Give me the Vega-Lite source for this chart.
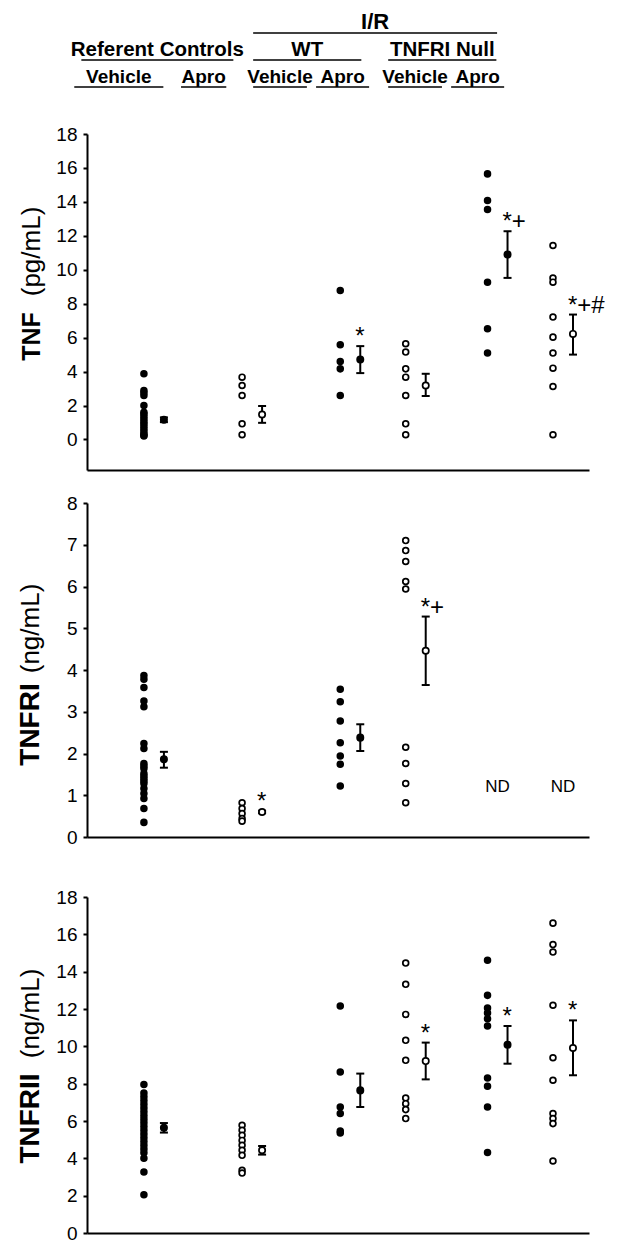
{
  "$schema": "https://vega.github.io/schema/vega-lite/v6.json",
  "background": "white",
  "padding": {"left": 16, "top": 6, "right": 5, "bottom": 5},
  "config": {
    "font": "Liberation Sans",
    "view": {"stroke": null},
    "axis": {"grid": false, "domainColor": "black", "domainWidth": 2, "tickColor": "black", "tickWidth": 2, "tickSize": 4, "labelColor": "black", "labelFont": "Liberation Sans", "labelFontSize": 19, "labelPadding": 6, "titleColor": "black", "titleFont": "Liberation Sans"}
  },
  "datasets": {
    "obs": [
      {"panel": "TNF", "group": "Referent Vehicle", "treatment": "Vehicle", "value": 3.87},
      {"panel": "TNF", "group": "Referent Vehicle", "treatment": "Vehicle", "value": 2.89},
      {"panel": "TNF", "group": "Referent Vehicle", "treatment": "Vehicle", "value": 2.75},
      {"panel": "TNF", "group": "Referent Vehicle", "treatment": "Vehicle", "value": 2.59},
      {"panel": "TNF", "group": "Referent Vehicle", "treatment": "Vehicle", "value": 2.0},
      {"panel": "TNF", "group": "Referent Vehicle", "treatment": "Vehicle", "value": 1.6},
      {"panel": "TNF", "group": "Referent Vehicle", "treatment": "Vehicle", "value": 1.5},
      {"panel": "TNF", "group": "Referent Vehicle", "treatment": "Vehicle", "value": 1.35},
      {"panel": "TNF", "group": "Referent Vehicle", "treatment": "Vehicle", "value": 1.2},
      {"panel": "TNF", "group": "Referent Vehicle", "treatment": "Vehicle", "value": 1.05},
      {"panel": "TNF", "group": "Referent Vehicle", "treatment": "Vehicle", "value": 0.92},
      {"panel": "TNF", "group": "Referent Vehicle", "treatment": "Vehicle", "value": 0.78},
      {"panel": "TNF", "group": "Referent Vehicle", "treatment": "Vehicle", "value": 0.63},
      {"panel": "TNF", "group": "Referent Vehicle", "treatment": "Vehicle", "value": 0.48},
      {"panel": "TNF", "group": "Referent Vehicle", "treatment": "Vehicle", "value": 0.34},
      {"panel": "TNF", "group": "Referent Vehicle", "treatment": "Vehicle", "value": 0.25},
      {"panel": "TNF", "group": "Referent Vehicle", "treatment": "Vehicle", "value": 0.2},
      {"panel": "TNF", "group": "Referent Apro", "treatment": "Apro", "value": 3.67},
      {"panel": "TNF", "group": "Referent Apro", "treatment": "Apro", "value": 3.18},
      {"panel": "TNF", "group": "Referent Apro", "treatment": "Apro", "value": 2.59},
      {"panel": "TNF", "group": "Referent Apro", "treatment": "Apro", "value": 0.92},
      {"panel": "TNF", "group": "Referent Apro", "treatment": "Apro", "value": 0.28},
      {"panel": "TNF", "group": "WT Vehicle", "treatment": "Vehicle", "value": 8.78},
      {"panel": "TNF", "group": "WT Vehicle", "treatment": "Vehicle", "value": 5.58},
      {"panel": "TNF", "group": "WT Vehicle", "treatment": "Vehicle", "value": 4.59},
      {"panel": "TNF", "group": "WT Vehicle", "treatment": "Vehicle", "value": 4.16},
      {"panel": "TNF", "group": "WT Vehicle", "treatment": "Vehicle", "value": 2.59},
      {"panel": "TNF", "group": "WT Apro", "treatment": "Apro", "value": 5.64},
      {"panel": "TNF", "group": "WT Apro", "treatment": "Apro", "value": 5.15},
      {"panel": "TNF", "group": "WT Apro", "treatment": "Apro", "value": 4.16},
      {"panel": "TNF", "group": "WT Apro", "treatment": "Apro", "value": 3.67},
      {"panel": "TNF", "group": "WT Apro", "treatment": "Apro", "value": 2.59},
      {"panel": "TNF", "group": "WT Apro", "treatment": "Apro", "value": 0.92},
      {"panel": "TNF", "group": "WT Apro", "treatment": "Apro", "value": 0.28},
      {"panel": "TNF", "group": "TNFRI Null Vehicle", "treatment": "Vehicle", "value": 15.65},
      {"panel": "TNF", "group": "TNFRI Null Vehicle", "treatment": "Vehicle", "value": 14.08},
      {"panel": "TNF", "group": "TNFRI Null Vehicle", "treatment": "Vehicle", "value": 13.55},
      {"panel": "TNF", "group": "TNFRI Null Vehicle", "treatment": "Vehicle", "value": 9.27},
      {"panel": "TNF", "group": "TNFRI Null Vehicle", "treatment": "Vehicle", "value": 6.52},
      {"panel": "TNF", "group": "TNFRI Null Vehicle", "treatment": "Vehicle", "value": 5.09},
      {"panel": "TNF", "group": "TNFRI Null Apro", "treatment": "Apro", "value": 11.43},
      {"panel": "TNF", "group": "TNFRI Null Apro", "treatment": "Apro", "value": 9.51},
      {"panel": "TNF", "group": "TNFRI Null Apro", "treatment": "Apro", "value": 9.27},
      {"panel": "TNF", "group": "TNFRI Null Apro", "treatment": "Apro", "value": 7.21},
      {"panel": "TNF", "group": "TNFRI Null Apro", "treatment": "Apro", "value": 6.03},
      {"panel": "TNF", "group": "TNFRI Null Apro", "treatment": "Apro", "value": 5.09},
      {"panel": "TNF", "group": "TNFRI Null Apro", "treatment": "Apro", "value": 4.2},
      {"panel": "TNF", "group": "TNFRI Null Apro", "treatment": "Apro", "value": 3.12},
      {"panel": "TNF", "group": "TNFRI Null Apro", "treatment": "Apro", "value": 0.28},
      {"panel": "TNFRI", "group": "Referent Vehicle", "treatment": "Vehicle", "value": 3.87},
      {"panel": "TNFRI", "group": "Referent Vehicle", "treatment": "Vehicle", "value": 3.78},
      {"panel": "TNFRI", "group": "Referent Vehicle", "treatment": "Vehicle", "value": 3.58},
      {"panel": "TNFRI", "group": "Referent Vehicle", "treatment": "Vehicle", "value": 3.26},
      {"panel": "TNFRI", "group": "Referent Vehicle", "treatment": "Vehicle", "value": 3.12},
      {"panel": "TNFRI", "group": "Referent Vehicle", "treatment": "Vehicle", "value": 2.24},
      {"panel": "TNFRI", "group": "Referent Vehicle", "treatment": "Vehicle", "value": 2.12},
      {"panel": "TNFRI", "group": "Referent Vehicle", "treatment": "Vehicle", "value": 1.76},
      {"panel": "TNFRI", "group": "Referent Vehicle", "treatment": "Vehicle", "value": 1.7},
      {"panel": "TNFRI", "group": "Referent Vehicle", "treatment": "Vehicle", "value": 1.64},
      {"panel": "TNFRI", "group": "Referent Vehicle", "treatment": "Vehicle", "value": 1.52},
      {"panel": "TNFRI", "group": "Referent Vehicle", "treatment": "Vehicle", "value": 1.46},
      {"panel": "TNFRI", "group": "Referent Vehicle", "treatment": "Vehicle", "value": 1.4},
      {"panel": "TNFRI", "group": "Referent Vehicle", "treatment": "Vehicle", "value": 1.34},
      {"panel": "TNFRI", "group": "Referent Vehicle", "treatment": "Vehicle", "value": 1.28},
      {"panel": "TNFRI", "group": "Referent Vehicle", "treatment": "Vehicle", "value": 1.16},
      {"panel": "TNFRI", "group": "Referent Vehicle", "treatment": "Vehicle", "value": 1.04},
      {"panel": "TNFRI", "group": "Referent Vehicle", "treatment": "Vehicle", "value": 0.92},
      {"panel": "TNFRI", "group": "Referent Vehicle", "treatment": "Vehicle", "value": 0.68},
      {"panel": "TNFRI", "group": "Referent Vehicle", "treatment": "Vehicle", "value": 0.35},
      {"panel": "TNFRI", "group": "Referent Apro", "treatment": "Apro", "value": 0.82},
      {"panel": "TNFRI", "group": "Referent Apro", "treatment": "Apro", "value": 0.68},
      {"panel": "TNFRI", "group": "Referent Apro", "treatment": "Apro", "value": 0.56},
      {"panel": "TNFRI", "group": "Referent Apro", "treatment": "Apro", "value": 0.44},
      {"panel": "TNFRI", "group": "Referent Apro", "treatment": "Apro", "value": 0.38},
      {"panel": "TNFRI", "group": "WT Vehicle", "treatment": "Vehicle", "value": 3.54},
      {"panel": "TNFRI", "group": "WT Vehicle", "treatment": "Vehicle", "value": 3.24},
      {"panel": "TNFRI", "group": "WT Vehicle", "treatment": "Vehicle", "value": 2.78},
      {"panel": "TNFRI", "group": "WT Vehicle", "treatment": "Vehicle", "value": 2.26},
      {"panel": "TNFRI", "group": "WT Vehicle", "treatment": "Vehicle", "value": 1.94},
      {"panel": "TNFRI", "group": "WT Vehicle", "treatment": "Vehicle", "value": 1.74},
      {"panel": "TNFRI", "group": "WT Vehicle", "treatment": "Vehicle", "value": 1.22},
      {"panel": "TNFRI", "group": "WT Apro", "treatment": "Apro", "value": 7.1},
      {"panel": "TNFRI", "group": "WT Apro", "treatment": "Apro", "value": 6.86},
      {"panel": "TNFRI", "group": "WT Apro", "treatment": "Apro", "value": 6.6},
      {"panel": "TNFRI", "group": "WT Apro", "treatment": "Apro", "value": 6.12},
      {"panel": "TNFRI", "group": "WT Apro", "treatment": "Apro", "value": 5.94},
      {"panel": "TNFRI", "group": "WT Apro", "treatment": "Apro", "value": 2.15},
      {"panel": "TNFRI", "group": "WT Apro", "treatment": "Apro", "value": 1.76},
      {"panel": "TNFRI", "group": "WT Apro", "treatment": "Apro", "value": 1.28},
      {"panel": "TNFRI", "group": "WT Apro", "treatment": "Apro", "value": 0.82},
      {"panel": "TNFRII", "group": "Referent Vehicle", "treatment": "Vehicle", "value": 7.96},
      {"panel": "TNFRII", "group": "Referent Vehicle", "treatment": "Vehicle", "value": 7.5},
      {"panel": "TNFRII", "group": "Referent Vehicle", "treatment": "Vehicle", "value": 7.3},
      {"panel": "TNFRII", "group": "Referent Vehicle", "treatment": "Vehicle", "value": 7.1},
      {"panel": "TNFRII", "group": "Referent Vehicle", "treatment": "Vehicle", "value": 6.9},
      {"panel": "TNFRII", "group": "Referent Vehicle", "treatment": "Vehicle", "value": 6.7},
      {"panel": "TNFRII", "group": "Referent Vehicle", "treatment": "Vehicle", "value": 6.5},
      {"panel": "TNFRII", "group": "Referent Vehicle", "treatment": "Vehicle", "value": 6.3},
      {"panel": "TNFRII", "group": "Referent Vehicle", "treatment": "Vehicle", "value": 6.1},
      {"panel": "TNFRII", "group": "Referent Vehicle", "treatment": "Vehicle", "value": 5.9},
      {"panel": "TNFRII", "group": "Referent Vehicle", "treatment": "Vehicle", "value": 5.7},
      {"panel": "TNFRII", "group": "Referent Vehicle", "treatment": "Vehicle", "value": 5.5},
      {"panel": "TNFRII", "group": "Referent Vehicle", "treatment": "Vehicle", "value": 5.3},
      {"panel": "TNFRII", "group": "Referent Vehicle", "treatment": "Vehicle", "value": 5.1},
      {"panel": "TNFRII", "group": "Referent Vehicle", "treatment": "Vehicle", "value": 4.9},
      {"panel": "TNFRII", "group": "Referent Vehicle", "treatment": "Vehicle", "value": 4.7},
      {"panel": "TNFRII", "group": "Referent Vehicle", "treatment": "Vehicle", "value": 4.5},
      {"panel": "TNFRII", "group": "Referent Vehicle", "treatment": "Vehicle", "value": 4.3},
      {"panel": "TNFRII", "group": "Referent Vehicle", "treatment": "Vehicle", "value": 4.0},
      {"panel": "TNFRII", "group": "Referent Vehicle", "treatment": "Vehicle", "value": 3.27},
      {"panel": "TNFRII", "group": "Referent Vehicle", "treatment": "Vehicle", "value": 2.05},
      {"panel": "TNFRII", "group": "Referent Apro", "treatment": "Apro", "value": 5.77},
      {"panel": "TNFRII", "group": "Referent Apro", "treatment": "Apro", "value": 5.5},
      {"panel": "TNFRII", "group": "Referent Apro", "treatment": "Apro", "value": 5.23},
      {"panel": "TNFRII", "group": "Referent Apro", "treatment": "Apro", "value": 4.96},
      {"panel": "TNFRII", "group": "Referent Apro", "treatment": "Apro", "value": 4.7},
      {"panel": "TNFRII", "group": "Referent Apro", "treatment": "Apro", "value": 4.43},
      {"panel": "TNFRII", "group": "Referent Apro", "treatment": "Apro", "value": 4.16},
      {"panel": "TNFRII", "group": "Referent Apro", "treatment": "Apro", "value": 3.36},
      {"panel": "TNFRII", "group": "Referent Apro", "treatment": "Apro", "value": 3.21},
      {"panel": "TNFRII", "group": "WT Vehicle", "treatment": "Vehicle", "value": 12.16},
      {"panel": "TNFRII", "group": "WT Vehicle", "treatment": "Vehicle", "value": 8.62},
      {"panel": "TNFRII", "group": "WT Vehicle", "treatment": "Vehicle", "value": 6.75},
      {"panel": "TNFRII", "group": "WT Vehicle", "treatment": "Vehicle", "value": 6.4},
      {"panel": "TNFRII", "group": "WT Vehicle", "treatment": "Vehicle", "value": 5.46},
      {"panel": "TNFRII", "group": "WT Vehicle", "treatment": "Vehicle", "value": 5.36},
      {"panel": "TNFRII", "group": "WT Apro", "treatment": "Apro", "value": 14.46},
      {"panel": "TNFRII", "group": "WT Apro", "treatment": "Apro", "value": 13.32},
      {"panel": "TNFRII", "group": "WT Apro", "treatment": "Apro", "value": 11.71},
      {"panel": "TNFRII", "group": "WT Apro", "treatment": "Apro", "value": 10.32},
      {"panel": "TNFRII", "group": "WT Apro", "treatment": "Apro", "value": 9.25},
      {"panel": "TNFRII", "group": "WT Apro", "treatment": "Apro", "value": 7.23},
      {"panel": "TNFRII", "group": "WT Apro", "treatment": "Apro", "value": 6.93},
      {"panel": "TNFRII", "group": "WT Apro", "treatment": "Apro", "value": 6.61},
      {"panel": "TNFRII", "group": "WT Apro", "treatment": "Apro", "value": 6.13},
      {"panel": "TNFRII", "group": "TNFRI Null Vehicle", "treatment": "Vehicle", "value": 14.61},
      {"panel": "TNFRII", "group": "TNFRI Null Vehicle", "treatment": "Vehicle", "value": 12.73},
      {"panel": "TNFRII", "group": "TNFRI Null Vehicle", "treatment": "Vehicle", "value": 12.05},
      {"panel": "TNFRII", "group": "TNFRI Null Vehicle", "treatment": "Vehicle", "value": 11.78},
      {"panel": "TNFRII", "group": "TNFRI Null Vehicle", "treatment": "Vehicle", "value": 11.48},
      {"panel": "TNFRII", "group": "TNFRI Null Vehicle", "treatment": "Vehicle", "value": 11.09},
      {"panel": "TNFRII", "group": "TNFRI Null Vehicle", "treatment": "Vehicle", "value": 8.3},
      {"panel": "TNFRII", "group": "TNFRI Null Vehicle", "treatment": "Vehicle", "value": 7.86},
      {"panel": "TNFRII", "group": "TNFRI Null Vehicle", "treatment": "Vehicle", "value": 6.75},
      {"panel": "TNFRII", "group": "TNFRI Null Vehicle", "treatment": "Vehicle", "value": 4.31},
      {"panel": "TNFRII", "group": "TNFRI Null Apro", "treatment": "Apro", "value": 16.6},
      {"panel": "TNFRII", "group": "TNFRI Null Apro", "treatment": "Apro", "value": 15.45},
      {"panel": "TNFRII", "group": "TNFRI Null Apro", "treatment": "Apro", "value": 15.05},
      {"panel": "TNFRII", "group": "TNFRI Null Apro", "treatment": "Apro", "value": 12.2},
      {"panel": "TNFRII", "group": "TNFRI Null Apro", "treatment": "Apro", "value": 9.39},
      {"panel": "TNFRII", "group": "TNFRI Null Apro", "treatment": "Apro", "value": 8.18},
      {"panel": "TNFRII", "group": "TNFRI Null Apro", "treatment": "Apro", "value": 6.4},
      {"panel": "TNFRII", "group": "TNFRI Null Apro", "treatment": "Apro", "value": 6.13},
      {"panel": "TNFRII", "group": "TNFRI Null Apro", "treatment": "Apro", "value": 5.86},
      {"panel": "TNFRII", "group": "TNFRI Null Apro", "treatment": "Apro", "value": 3.86}
    ],
    "summary": [
      {"panel": "TNF", "group": "Referent Vehicle", "treatment": "Vehicle", "mean": 1.16, "lo": 1.02, "hi": 1.3},
      {"panel": "TNF", "group": "Referent Apro", "treatment": "Apro", "mean": 1.47, "lo": 0.98, "hi": 1.97},
      {"panel": "TNF", "group": "WT Vehicle", "treatment": "Vehicle", "mean": 4.71, "lo": 3.91, "hi": 5.5, "sig": "*"},
      {"panel": "TNF", "group": "WT Apro", "treatment": "Apro", "mean": 3.18, "lo": 2.56, "hi": 3.87},
      {"panel": "TNF", "group": "TNFRI Null Vehicle", "treatment": "Vehicle", "mean": 10.9, "lo": 9.52, "hi": 12.27, "sig": "*+"},
      {"panel": "TNF", "group": "TNFRI Null Apro", "treatment": "Apro", "mean": 6.22, "lo": 5.0, "hi": 7.36, "sig": "*+#"},
      {"panel": "TNFRI", "group": "Referent Vehicle", "treatment": "Vehicle", "mean": 1.86, "lo": 1.66, "hi": 2.04},
      {"panel": "TNFRI", "group": "Referent Apro", "treatment": "Apro", "mean": 0.6, "lo": 0.57, "hi": 0.63, "sig": "*"},
      {"panel": "TNFRI", "group": "WT Vehicle", "treatment": "Vehicle", "mean": 2.38, "lo": 2.06, "hi": 2.7},
      {"panel": "TNFRI", "group": "WT Apro", "treatment": "Apro", "mean": 4.46, "lo": 3.64, "hi": 5.28, "sig": "*+"},
      {"panel": "TNFRII", "group": "Referent Vehicle", "treatment": "Vehicle", "mean": 5.64, "lo": 5.38, "hi": 5.89},
      {"panel": "TNFRII", "group": "Referent Apro", "treatment": "Apro", "mean": 4.43, "lo": 4.2, "hi": 4.66},
      {"panel": "TNFRII", "group": "WT Vehicle", "treatment": "Vehicle", "mean": 7.64, "lo": 6.75, "hi": 8.54},
      {"panel": "TNFRII", "group": "WT Apro", "treatment": "Apro", "mean": 9.21, "lo": 8.23, "hi": 10.2, "sig": "*"},
      {"panel": "TNFRII", "group": "TNFRI Null Vehicle", "treatment": "Vehicle", "mean": 10.09, "lo": 9.07, "hi": 11.09, "sig": "*"},
      {"panel": "TNFRII", "group": "TNFRI Null Apro", "treatment": "Apro", "mean": 9.91, "lo": 8.45, "hi": 11.39, "sig": "*"}
    ],
    "notes": [
      {"panel": "TNFRI", "group": "TNFRI Null Vehicle", "note": "ND"},
      {"panel": "TNFRI", "group": "TNFRI Null Apro", "note": "ND"}
    ],
    "header": [
      {"key": "I/R", "label": "I/R", "level": 1, "lo": 2.75, "hi": 6.2},
      {"key": "Referent Controls", "label": "Referent Controls", "level": 2, "lo": 0.32, "hi": 2.47},
      {"key": "WT", "label": "WT", "level": 2, "lo": 2.75, "hi": 4.28},
      {"key": "TNFRI Null", "label": "TNFRI Null", "level": 2, "lo": 4.66, "hi": 6.19},
      {"key": "Referent Vehicle", "label": "Vehicle", "level": 3, "lo": 0.22, "hi": 1.48},
      {"key": "Referent Apro", "label": "Apro", "level": 3, "lo": 1.73, "hi": 2.37},
      {"key": "WT Vehicle", "label": "Vehicle", "level": 3, "lo": 2.75, "hi": 3.51},
      {"key": "WT Apro", "label": "Apro", "level": 3, "lo": 3.64, "hi": 4.39},
      {"key": "TNFRI Null Vehicle", "label": "Vehicle", "level": 3, "lo": 4.66, "hi": 5.42},
      {"key": "TNFRI Null Apro", "label": "Apro", "level": 3, "lo": 5.55, "hi": 6.3}
    ]
  },
  "spacing": 11,
  "vconcat": [
    {
      "width": 502,
      "height": 108,
      "data": {"name": "header"},
      "layer": [
        {
          "mark": {"type": "rule", "color": "black", "strokeWidth": 1.3},
          "encoding": {
            "x": {"field": "lo", "type": "quantitative", "scale": {"domain": [0.4, 7.5], "nice": false, "zero": false}, "axis": null},
            "x2": {"field": "hi"},
            "y": {"field": "level", "type": "ordinal", "scale": {"type": "point", "domain": [1, 2, 3], "padding": 1}, "axis": null}
          }
        },
        {
          "transform": [
            {"fold": ["lo", "hi"], "as": ["end", "pos"]},
            {"aggregate": [{"op": "mean", "field": "pos", "as": "mid"}], "groupby": ["key", "label", "level"]}
          ],
          "mark": {"type": "text", "fontWeight": "bold", "baseline": "alphabetic", "align": "center", "dy": -4, "color": "black"},
          "encoding": {
            "x": {"field": "mid", "type": "quantitative", "scale": {"domain": [0.4, 7.5], "nice": false, "zero": false}, "axis": null},
            "y": {"field": "level", "type": "ordinal", "scale": {"type": "point", "domain": [1, 2, 3], "padding": 1}, "axis": null},
            "text": {"field": "label"},
            "size": {"field": "level", "type": "ordinal", "scale": {"domain": [1, 2, 3], "range": [22, 19, 17.5]}, "legend": null}
          }
        }
      ]
    },
    {
      "spacing": 41,
      "vconcat": [
        {
          "spacing": 24,
          "vconcat": [
            {
              "width": 502,
              "height": 336,
              "resolve": {"axis": {"y": "independent"}},
              "layer": [
                {
                  "data": {"name": "obs"},
                  "transform": [{"filter": "datum.panel === 'TNF'"}],
                  "mark": {"type": "point", "shape": "circle", "filled": true, "size": 34, "stroke": "black", "strokeWidth": 1.7, "opacity": 1},
                  "encoding": {
                    "x": {"field": "group", "type": "nominal", "title": null, "scale": {"type": "point", "domain": ["l1", "l2", "Referent Vehicle", "s1", "s2", "s3", "s4", "s5", "Referent Apro", "s6", "s7", "s8", "s9", "s10", "WT Vehicle", "s11", "s12", "s13", "WT Apro", "s14", "s15", "s16", "s17", "TNFRI Null Vehicle", "s18", "s19", "s20", "TNFRI Null Apro", "r1", "r2"], "padding": 0.84, "align": 0.88}, "axis": {"labels": false, "ticks": false, "domainWidth": 2, "domainColor": "black"}},
                    "y": {"field": "value", "type": "quantitative", "scale": {"domain": [-1.8, 18], "nice": false, "zero": false}, "axis": {"values": [0, 2, 4, 6, 8, 10, 12, 14, 16, 18], "title": "TNF", "titleFontWeight": "bold", "titleFontSize": 25, "titleAngle": 270, "titleAlign": "center", "titleBaseline": "alphabetic", "titleX": -48, "titleY": 202}},
                    "fill": {"field": "treatment", "type": "nominal", "scale": {"domain": ["Vehicle", "Apro"], "range": ["black", "white"]}, "legend": null}
                  }
                },
                {
                  "data": {"name": "summary"},
                  "transform": [{"filter": "datum.panel === 'TNF'"}],
                  "mark": {"type": "rule", "xOffset": 20, "strokeWidth": 2, "color": "black"},
                  "encoding": {
                    "x": {"field": "group", "type": "nominal", "title": null, "scale": {"type": "point", "domain": ["l1", "l2", "Referent Vehicle", "s1", "s2", "s3", "s4", "s5", "Referent Apro", "s6", "s7", "s8", "s9", "s10", "WT Vehicle", "s11", "s12", "s13", "WT Apro", "s14", "s15", "s16", "s17", "TNFRI Null Vehicle", "s18", "s19", "s20", "TNFRI Null Apro", "r1", "r2"], "padding": 0.84, "align": 0.88}},
                    "y": {"field": "lo", "type": "quantitative", "scale": {"domain": [-1.8, 18], "nice": false, "zero": false}, "axis": null},
                    "y2": {"field": "hi"}
                  }
                },
                {
                  "data": {"name": "summary"},
                  "transform": [{"filter": "datum.panel === 'TNF'"}],
                  "mark": {"type": "tick", "xOffset": 20, "thickness": 2, "size": 8, "color": "black", "opacity": 1, "orient": "horizontal"},
                  "encoding": {
                    "x": {"field": "group", "type": "nominal", "title": null, "scale": {"type": "point", "domain": ["l1", "l2", "Referent Vehicle", "s1", "s2", "s3", "s4", "s5", "Referent Apro", "s6", "s7", "s8", "s9", "s10", "WT Vehicle", "s11", "s12", "s13", "WT Apro", "s14", "s15", "s16", "s17", "TNFRI Null Vehicle", "s18", "s19", "s20", "TNFRI Null Apro", "r1", "r2"], "padding": 0.84, "align": 0.88}},
                    "y": {"field": "lo", "type": "quantitative", "scale": {"domain": [-1.8, 18], "nice": false, "zero": false}, "axis": null}
                  }
                },
                {
                  "data": {"name": "summary"},
                  "transform": [{"filter": "datum.panel === 'TNF'"}],
                  "mark": {"type": "tick", "xOffset": 20, "thickness": 2, "size": 8, "color": "black", "opacity": 1, "orient": "horizontal"},
                  "encoding": {
                    "x": {"field": "group", "type": "nominal", "title": null, "scale": {"type": "point", "domain": ["l1", "l2", "Referent Vehicle", "s1", "s2", "s3", "s4", "s5", "Referent Apro", "s6", "s7", "s8", "s9", "s10", "WT Vehicle", "s11", "s12", "s13", "WT Apro", "s14", "s15", "s16", "s17", "TNFRI Null Vehicle", "s18", "s19", "s20", "TNFRI Null Apro", "r1", "r2"], "padding": 0.84, "align": 0.88}},
                    "y": {"field": "hi", "type": "quantitative", "scale": {"domain": [-1.8, 18], "nice": false, "zero": false}, "axis": null}
                  }
                },
                {
                  "data": {"name": "summary"},
                  "transform": [{"filter": "datum.panel === 'TNF'"}],
                  "mark": {"type": "point", "shape": "circle", "filled": true, "size": 40, "stroke": "black", "strokeWidth": 1.7, "opacity": 1, "xOffset": 20},
                  "encoding": {
                    "x": {"field": "group", "type": "nominal", "title": null, "scale": {"type": "point", "domain": ["l1", "l2", "Referent Vehicle", "s1", "s2", "s3", "s4", "s5", "Referent Apro", "s6", "s7", "s8", "s9", "s10", "WT Vehicle", "s11", "s12", "s13", "WT Apro", "s14", "s15", "s16", "s17", "TNFRI Null Vehicle", "s18", "s19", "s20", "TNFRI Null Apro", "r1", "r2"], "padding": 0.84, "align": 0.88}},
                    "y": {"field": "mean", "type": "quantitative", "scale": {"domain": [-1.8, 18], "nice": false, "zero": false}, "axis": {"orient": "left", "labels": false, "ticks": false, "domain": false, "title": "(pg/mL)", "titleFontWeight": "normal", "titleFontSize": 26, "titleAngle": 270, "titleAlign": "center", "titleBaseline": "alphabetic", "titleX": -48, "titleY": 117}},
                    "fill": {"field": "treatment", "type": "nominal", "scale": {"domain": ["Vehicle", "Apro"], "range": ["black", "white"]}, "legend": null}
                  }
                },
                {
                  "data": {"name": "summary"},
                  "transform": [{"filter": "datum.panel === 'TNF' && datum.sig"}],
                  "mark": {"type": "text", "xOffset": 20, "dx": -5, "dy": -2, "align": "left", "baseline": "alphabetic", "fontSize": 24, "color": "black"},
                  "encoding": {
                    "x": {"field": "group", "type": "nominal", "title": null, "scale": {"type": "point", "domain": ["l1", "l2", "Referent Vehicle", "s1", "s2", "s3", "s4", "s5", "Referent Apro", "s6", "s7", "s8", "s9", "s10", "WT Vehicle", "s11", "s12", "s13", "WT Apro", "s14", "s15", "s16", "s17", "TNFRI Null Vehicle", "s18", "s19", "s20", "TNFRI Null Apro", "r1", "r2"], "padding": 0.84, "align": 0.88}},
                    "y": {"field": "hi", "type": "quantitative", "scale": {"domain": [-1.8, 18], "nice": false, "zero": false}, "axis": null},
                    "text": {"field": "sig"}
                  }
                }
              ]
            },
            {
              "width": 502,
              "height": 334,
              "resolve": {"axis": {"y": "independent"}},
              "layer": [
                {
                  "data": {"name": "obs"},
                  "transform": [{"filter": "datum.panel === 'TNFRI'"}],
                  "mark": {"type": "point", "shape": "circle", "filled": true, "size": 34, "stroke": "black", "strokeWidth": 1.7, "opacity": 1},
                  "encoding": {
                    "x": {"field": "group", "type": "nominal", "title": null, "scale": {"type": "point", "domain": ["l1", "l2", "Referent Vehicle", "s1", "s2", "s3", "s4", "s5", "Referent Apro", "s6", "s7", "s8", "s9", "s10", "WT Vehicle", "s11", "s12", "s13", "WT Apro", "s14", "s15", "s16", "s17", "TNFRI Null Vehicle", "s18", "s19", "s20", "TNFRI Null Apro", "r1", "r2"], "padding": 0.84, "align": 0.88}, "axis": {"labels": false, "ticks": false, "domainWidth": 2, "domainColor": "black"}},
                    "y": {"field": "value", "type": "quantitative", "scale": {"domain": [0, 8], "nice": false, "zero": false}, "axis": {"values": [0, 1, 2, 3, 4, 5, 6, 7, 8], "title": "TNFRI", "titleFontWeight": "bold", "titleFontSize": 28, "titleAngle": 270, "titleAlign": "center", "titleBaseline": "alphabetic", "titleX": -49, "titleY": 221}},
                    "fill": {"field": "treatment", "type": "nominal", "scale": {"domain": ["Vehicle", "Apro"], "range": ["black", "white"]}, "legend": null}
                  }
                },
                {
                  "data": {"name": "summary"},
                  "transform": [{"filter": "datum.panel === 'TNFRI'"}],
                  "mark": {"type": "rule", "xOffset": 20, "strokeWidth": 2, "color": "black"},
                  "encoding": {
                    "x": {"field": "group", "type": "nominal", "title": null, "scale": {"type": "point", "domain": ["l1", "l2", "Referent Vehicle", "s1", "s2", "s3", "s4", "s5", "Referent Apro", "s6", "s7", "s8", "s9", "s10", "WT Vehicle", "s11", "s12", "s13", "WT Apro", "s14", "s15", "s16", "s17", "TNFRI Null Vehicle", "s18", "s19", "s20", "TNFRI Null Apro", "r1", "r2"], "padding": 0.84, "align": 0.88}},
                    "y": {"field": "lo", "type": "quantitative", "scale": {"domain": [0, 8], "nice": false, "zero": false}, "axis": null},
                    "y2": {"field": "hi"}
                  }
                },
                {
                  "data": {"name": "summary"},
                  "transform": [{"filter": "datum.panel === 'TNFRI'"}],
                  "mark": {"type": "tick", "xOffset": 20, "thickness": 2, "size": 8, "color": "black", "opacity": 1, "orient": "horizontal"},
                  "encoding": {
                    "x": {"field": "group", "type": "nominal", "title": null, "scale": {"type": "point", "domain": ["l1", "l2", "Referent Vehicle", "s1", "s2", "s3", "s4", "s5", "Referent Apro", "s6", "s7", "s8", "s9", "s10", "WT Vehicle", "s11", "s12", "s13", "WT Apro", "s14", "s15", "s16", "s17", "TNFRI Null Vehicle", "s18", "s19", "s20", "TNFRI Null Apro", "r1", "r2"], "padding": 0.84, "align": 0.88}},
                    "y": {"field": "lo", "type": "quantitative", "scale": {"domain": [0, 8], "nice": false, "zero": false}, "axis": null}
                  }
                },
                {
                  "data": {"name": "summary"},
                  "transform": [{"filter": "datum.panel === 'TNFRI'"}],
                  "mark": {"type": "tick", "xOffset": 20, "thickness": 2, "size": 8, "color": "black", "opacity": 1, "orient": "horizontal"},
                  "encoding": {
                    "x": {"field": "group", "type": "nominal", "title": null, "scale": {"type": "point", "domain": ["l1", "l2", "Referent Vehicle", "s1", "s2", "s3", "s4", "s5", "Referent Apro", "s6", "s7", "s8", "s9", "s10", "WT Vehicle", "s11", "s12", "s13", "WT Apro", "s14", "s15", "s16", "s17", "TNFRI Null Vehicle", "s18", "s19", "s20", "TNFRI Null Apro", "r1", "r2"], "padding": 0.84, "align": 0.88}},
                    "y": {"field": "hi", "type": "quantitative", "scale": {"domain": [0, 8], "nice": false, "zero": false}, "axis": null}
                  }
                },
                {
                  "data": {"name": "summary"},
                  "transform": [{"filter": "datum.panel === 'TNFRI'"}],
                  "mark": {"type": "point", "shape": "circle", "filled": true, "size": 40, "stroke": "black", "strokeWidth": 1.7, "opacity": 1, "xOffset": 20},
                  "encoding": {
                    "x": {"field": "group", "type": "nominal", "title": null, "scale": {"type": "point", "domain": ["l1", "l2", "Referent Vehicle", "s1", "s2", "s3", "s4", "s5", "Referent Apro", "s6", "s7", "s8", "s9", "s10", "WT Vehicle", "s11", "s12", "s13", "WT Apro", "s14", "s15", "s16", "s17", "TNFRI Null Vehicle", "s18", "s19", "s20", "TNFRI Null Apro", "r1", "r2"], "padding": 0.84, "align": 0.88}},
                    "y": {"field": "mean", "type": "quantitative", "scale": {"domain": [0, 8], "nice": false, "zero": false}, "axis": {"orient": "left", "labels": false, "ticks": false, "domain": false, "title": "(ng/mL)", "titleFontWeight": "normal", "titleFontSize": 26, "titleAngle": 270, "titleAlign": "center", "titleBaseline": "alphabetic", "titleX": -49, "titleY": 125}},
                    "fill": {"field": "treatment", "type": "nominal", "scale": {"domain": ["Vehicle", "Apro"], "range": ["black", "white"]}, "legend": null}
                  }
                },
                {
                  "data": {"name": "summary"},
                  "transform": [{"filter": "datum.panel === 'TNFRI' && datum.sig"}],
                  "mark": {"type": "text", "xOffset": 20, "dx": -5, "dy": -2, "align": "left", "baseline": "alphabetic", "fontSize": 24, "color": "black"},
                  "encoding": {
                    "x": {"field": "group", "type": "nominal", "title": null, "scale": {"type": "point", "domain": ["l1", "l2", "Referent Vehicle", "s1", "s2", "s3", "s4", "s5", "Referent Apro", "s6", "s7", "s8", "s9", "s10", "WT Vehicle", "s11", "s12", "s13", "WT Apro", "s14", "s15", "s16", "s17", "TNFRI Null Vehicle", "s18", "s19", "s20", "TNFRI Null Apro", "r1", "r2"], "padding": 0.84, "align": 0.88}},
                    "y": {"field": "hi", "type": "quantitative", "scale": {"domain": [0, 8], "nice": false, "zero": false}, "axis": null},
                    "text": {"field": "sig"}
                  }
                },
                {
                  "data": {"name": "notes"},
                  "mark": {"type": "text", "xOffset": 10, "align": "center", "baseline": "middle", "fontSize": 17, "color": "black"},
                  "encoding": {
                    "x": {"field": "group", "type": "nominal", "title": null, "scale": {"type": "point", "domain": ["l1", "l2", "Referent Vehicle", "s1", "s2", "s3", "s4", "s5", "Referent Apro", "s6", "s7", "s8", "s9", "s10", "WT Vehicle", "s11", "s12", "s13", "WT Apro", "s14", "s15", "s16", "s17", "TNFRI Null Vehicle", "s18", "s19", "s20", "TNFRI Null Apro", "r1", "r2"], "padding": 0.84, "align": 0.88}},
                    "y": {"datum": 1.2, "type": "quantitative", "scale": {"domain": [0, 8], "nice": false, "zero": false}, "axis": null},
                    "text": {"field": "note"}
                  }
                }
              ]
            }
          ]
        },
        {
          "width": 502,
          "height": 336,
          "resolve": {"axis": {"y": "independent"}},
          "layer": [
            {
              "data": {"name": "obs"},
              "transform": [{"filter": "datum.panel === 'TNFRII'"}],
              "mark": {"type": "point", "shape": "circle", "filled": true, "size": 34, "stroke": "black", "strokeWidth": 1.7, "opacity": 1},
              "encoding": {
                "x": {"field": "group", "type": "nominal", "title": null, "scale": {"type": "point", "domain": ["l1", "l2", "Referent Vehicle", "s1", "s2", "s3", "s4", "s5", "Referent Apro", "s6", "s7", "s8", "s9", "s10", "WT Vehicle", "s11", "s12", "s13", "WT Apro", "s14", "s15", "s16", "s17", "TNFRI Null Vehicle", "s18", "s19", "s20", "TNFRI Null Apro", "r1", "r2"], "padding": 0.84, "align": 0.88}, "axis": {"labels": false, "ticks": false, "domainWidth": 2, "domainColor": "black"}},
                "y": {"field": "value", "type": "quantitative", "scale": {"domain": [0, 18], "nice": false, "zero": false}, "axis": {"values": [0, 2, 4, 6, 8, 10, 12, 14, 16, 18], "title": "TNFRII", "titleFontWeight": "bold", "titleFontSize": 28, "titleAngle": 270, "titleAlign": "center", "titleBaseline": "alphabetic", "titleX": -49, "titleY": 221}},
                "fill": {"field": "treatment", "type": "nominal", "scale": {"domain": ["Vehicle", "Apro"], "range": ["black", "white"]}, "legend": null}
              }
            },
            {
              "data": {"name": "summary"},
              "transform": [{"filter": "datum.panel === 'TNFRII'"}],
              "mark": {"type": "rule", "xOffset": 20, "strokeWidth": 2, "color": "black"},
              "encoding": {
                "x": {"field": "group", "type": "nominal", "title": null, "scale": {"type": "point", "domain": ["l1", "l2", "Referent Vehicle", "s1", "s2", "s3", "s4", "s5", "Referent Apro", "s6", "s7", "s8", "s9", "s10", "WT Vehicle", "s11", "s12", "s13", "WT Apro", "s14", "s15", "s16", "s17", "TNFRI Null Vehicle", "s18", "s19", "s20", "TNFRI Null Apro", "r1", "r2"], "padding": 0.84, "align": 0.88}},
                "y": {"field": "lo", "type": "quantitative", "scale": {"domain": [0, 18], "nice": false, "zero": false}, "axis": null},
                "y2": {"field": "hi"}
              }
            },
            {
              "data": {"name": "summary"},
              "transform": [{"filter": "datum.panel === 'TNFRII'"}],
              "mark": {"type": "tick", "xOffset": 20, "thickness": 2, "size": 8, "color": "black", "opacity": 1, "orient": "horizontal"},
              "encoding": {
                "x": {"field": "group", "type": "nominal", "title": null, "scale": {"type": "point", "domain": ["l1", "l2", "Referent Vehicle", "s1", "s2", "s3", "s4", "s5", "Referent Apro", "s6", "s7", "s8", "s9", "s10", "WT Vehicle", "s11", "s12", "s13", "WT Apro", "s14", "s15", "s16", "s17", "TNFRI Null Vehicle", "s18", "s19", "s20", "TNFRI Null Apro", "r1", "r2"], "padding": 0.84, "align": 0.88}},
                "y": {"field": "lo", "type": "quantitative", "scale": {"domain": [0, 18], "nice": false, "zero": false}, "axis": null}
              }
            },
            {
              "data": {"name": "summary"},
              "transform": [{"filter": "datum.panel === 'TNFRII'"}],
              "mark": {"type": "tick", "xOffset": 20, "thickness": 2, "size": 8, "color": "black", "opacity": 1, "orient": "horizontal"},
              "encoding": {
                "x": {"field": "group", "type": "nominal", "title": null, "scale": {"type": "point", "domain": ["l1", "l2", "Referent Vehicle", "s1", "s2", "s3", "s4", "s5", "Referent Apro", "s6", "s7", "s8", "s9", "s10", "WT Vehicle", "s11", "s12", "s13", "WT Apro", "s14", "s15", "s16", "s17", "TNFRI Null Vehicle", "s18", "s19", "s20", "TNFRI Null Apro", "r1", "r2"], "padding": 0.84, "align": 0.88}},
                "y": {"field": "hi", "type": "quantitative", "scale": {"domain": [0, 18], "nice": false, "zero": false}, "axis": null}
              }
            },
            {
              "data": {"name": "summary"},
              "transform": [{"filter": "datum.panel === 'TNFRII'"}],
              "mark": {"type": "point", "shape": "circle", "filled": true, "size": 40, "stroke": "black", "strokeWidth": 1.7, "opacity": 1, "xOffset": 20},
              "encoding": {
                "x": {"field": "group", "type": "nominal", "title": null, "scale": {"type": "point", "domain": ["l1", "l2", "Referent Vehicle", "s1", "s2", "s3", "s4", "s5", "Referent Apro", "s6", "s7", "s8", "s9", "s10", "WT Vehicle", "s11", "s12", "s13", "WT Apro", "s14", "s15", "s16", "s17", "TNFRI Null Vehicle", "s18", "s19", "s20", "TNFRI Null Apro", "r1", "r2"], "padding": 0.84, "align": 0.88}},
                "y": {"field": "mean", "type": "quantitative", "scale": {"domain": [0, 18], "nice": false, "zero": false}, "axis": {"orient": "left", "labels": false, "ticks": false, "domain": false, "title": "(ng/mL)", "titleFontWeight": "normal", "titleFontSize": 26, "titleAngle": 270, "titleAlign": "center", "titleBaseline": "alphabetic", "titleX": -49, "titleY": 116}},
                "fill": {"field": "treatment", "type": "nominal", "scale": {"domain": ["Vehicle", "Apro"], "range": ["black", "white"]}, "legend": null}
              }
            },
            {
              "data": {"name": "summary"},
              "transform": [{"filter": "datum.panel === 'TNFRII' && datum.sig"}],
              "mark": {"type": "text", "xOffset": 20, "dx": -5, "dy": -2, "align": "left", "baseline": "alphabetic", "fontSize": 24, "color": "black"},
              "encoding": {
                "x": {"field": "group", "type": "nominal", "title": null, "scale": {"type": "point", "domain": ["l1", "l2", "Referent Vehicle", "s1", "s2", "s3", "s4", "s5", "Referent Apro", "s6", "s7", "s8", "s9", "s10", "WT Vehicle", "s11", "s12", "s13", "WT Apro", "s14", "s15", "s16", "s17", "TNFRI Null Vehicle", "s18", "s19", "s20", "TNFRI Null Apro", "r1", "r2"], "padding": 0.84, "align": 0.88}},
                "y": {"field": "hi", "type": "quantitative", "scale": {"domain": [0, 18], "nice": false, "zero": false}, "axis": null},
                "text": {"field": "sig"}
              }
            }
          ]
        }
      ]
    }
  ]
}
